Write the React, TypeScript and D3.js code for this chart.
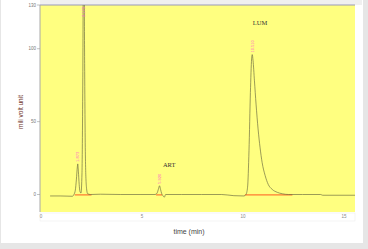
import React from "react";
import * as d3 from "d3";

// Chromatogram trace (time in min, signal in mV)
const times = [0.5, 1.0, 1.6, 1.68, 1.75, 1.8, 1.85, 1.87, 1.9, 1.94, 1.98, 2.03, 2.08, 2.12, 2.15, 2.18, 2.21, 2.25, 2.3, 2.36, 2.5, 3.0, 4.0, 5.0, 5.7, 5.8, 5.87, 5.92, 5.97, 6.03, 6.1, 6.16, 6.22, 7.0, 8.0, 9.0, 9.6, 10.1, 10.2, 10.28, 10.35, 10.42, 10.48, 10.51, 10.55, 10.62, 10.7, 10.8, 10.9, 11.0, 11.15, 11.3, 11.5, 11.75, 12.0, 12.3, 13.0, 13.9, 14.0, 15.6];
const signal = [-1, -1, -1.2, 0, 3, 10, 19, 21, 16, 7, 2, 1, 15, 80, 160, 170, 90, 25, 5, 0.5, 0, 0.2, 0, 0, 0, 1, 4, 6, 3.5, 0.5, -1, -1.8, 0, 0, 0, 0, -0.8, -1, 0, 5, 30, 70, 93, 96, 92, 78, 62, 45, 32, 22, 13, 7, 3.5, 1.5, 0.5, 0, 0, 0, -0.5, -0.5];

// Peaks
const peakTimes = [1.87, 2.17, 5.92, 10.51];
const peakHeights = [21, 170, 6, 96];
const peakLabels = ["1.873", "2.173", "5.920", "10.510"];
const baselineStarts = [1.72, 5.75, 10.15];
const baselineEnds = [2.55, 6.05, 12.5];

// Compound names
const compoundNames = ["ART", "LUM"];
const compoundTimes = [6.4, 10.9];
const compoundValues = [19, 116];

// Axes
const xTicks = [0, 5, 10, 15];
const yTicks = [0, 50, 100, 130];

const W = 368;
const H = 249;
const L = 40, R = 355, T = 5, B = 212;

export default function App() {
  const x = d3.scaleLinear().domain([0, 15.6]).range([L, R]);
  const y = d3.scaleLinear().domain([-12, 130]).range([B, T]);
  const pts: [number, number][] = times.map((t, i) => [t, signal[i]]);
  const line = d3
    .line<[number, number]>()
    .x((d) => x(d[0]))
    .y((d) => y(d[1]))
    .curve(d3.curveMonotoneX);

  return (
    <svg
      width={W}
      height={H}
      style={{ position: "absolute", left: 0, top: 0, display: "block" }}
      fontFamily="Liberation Sans, Arial, sans-serif"
    >
      <defs>
        <clipPath id="plotclip">
          <rect x={L} y={T} width={R - L} height={B - T} />
        </clipPath>
      </defs>
      <rect x={0} y={0} width={W} height={H} fill="#e6e6e6" />
      <rect x={1} y={0} width={362} height={243} fill="#ffffff" />
      <rect x={L} y={0} width={362 - L} height={T} fill="#f0f0f0" />
      <rect x={L} y={T} width={R - L} height={B - T} fill="#ffff80" />
      <line x1={L} x2={R} y1={T} y2={T} stroke="#9a9ab8" strokeWidth={1} />
      <line x1={L} x2={L} y1={T} y2={B} stroke="#a8a8a8" strokeWidth={1} />
      <rect x={L} y={B + 1} width={R - L} height={8} fill="#ffffff" stroke="#eeeeee" strokeWidth={0.6} />

      {yTicks.map((v) => (
        <g key={"y" + v}>
          <line x1={L - 3} x2={L} y1={y(v)} y2={y(v)} stroke="#999" strokeWidth={0.6} />
          <text x={L - 4} y={y(v)} dy="0.35em" fontSize={4.5} fill="#777" textAnchor="end">
            {v}
          </text>
        </g>
      ))}
      {xTicks.map((v) => (
        <text key={"x" + v} x={x(v) + 1} y={B + 6} fontSize={4.5} fill="#888" textAnchor="middle">
          {v}
        </text>
      ))}

      <g clipPath="url(#plotclip)">
        {baselineStarts.map((s, i) => (
          <line
            key={"b" + i}
            x1={x(s)}
            x2={x(baselineEnds[i])}
            y1={y(0) + 0.4}
            y2={y(0) + 0.4}
            stroke="#ff5a1e"
            strokeWidth={1}
          />
        ))}
        <path d={line(pts) || ""} fill="none" stroke="#66663e" strokeWidth={0.65} />
        {peakTimes.map((t, i) => {
          const py = Math.max(y(peakHeights[i]) - 2, T + 12);
          return (
            <text
              key={"p" + i}
              transform={`translate(${x(t) + 1.5},${py}) rotate(-90)`}
              fontSize={4}
              fill="#ff5fc8"
              textAnchor="start"
            >
              {peakLabels[i]}
            </text>
          );
        })}
      </g>

      {compoundNames.map((n, i) => (
        <text
          key={n}
          x={x(compoundTimes[i])}
          y={y(compoundValues[i])}
          fontSize={6.5}
          fontFamily="Liberation Serif, serif"
          fill="#333"
          textAnchor="middle"
        >
          {n}
        </text>
      ))}

      <text x={189} y={234} fontSize={7} fill="#444" textAnchor="middle">
        time (min)
      </text>
      <text
        transform={`translate(23,112) rotate(-90)`}
        fontSize={6.5}
        fill="#6e3328"
        textAnchor="middle"
      >
        mili volt unit
      </text>
    </svg>
  );
}
